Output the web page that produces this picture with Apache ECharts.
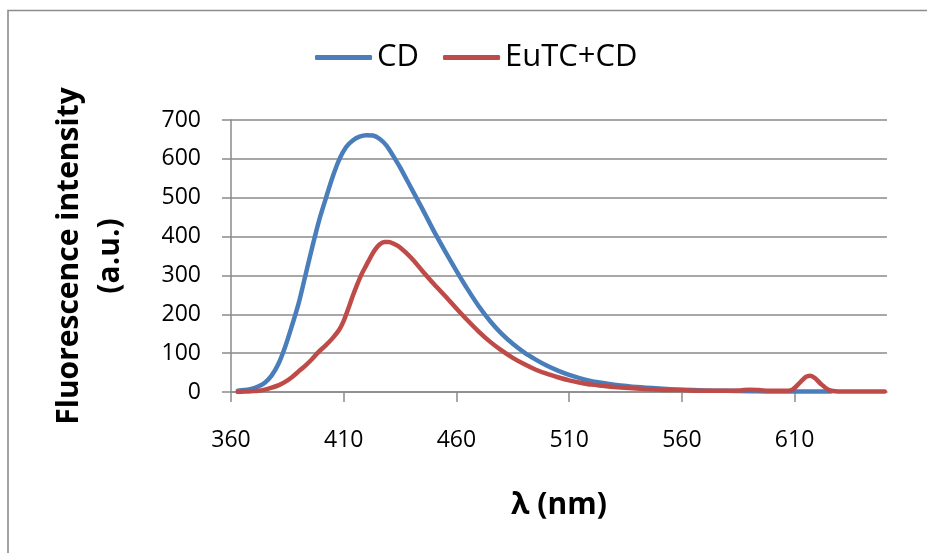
<!DOCTYPE html>
<html>
<head>
<meta charset="utf-8">
<script src="https://cdn.jsdelivr.net/npm/echarts@6/dist/echarts.min.js"></script>
<style>
html,body{margin:0;padding:0;background:#fff;}
#chart{width:927px;height:553px;}
</style>
</head>
<body>
<div id="chart"></div>
<script>
// ---- data ----
const seriesNames = ['CD', 'EuTC+CD'];

const cdWavelength = [363,366,369,372,375,378,381,384,387,390,393,396,399,402,405,408,411,414,417,420,423,426,429,432,435,440,445,450,455,460,465,470,475,480,485,490,495,500,505,510,515,520,525,530,540,550,560,570,580,590,600,610,620,626];
const cdIntensity  = [3,5,8,14,24,42,72,116,170,228,300,372,440,497,552,598,630,647,657,661,660,651,634,607,578,524,470,414,362,312,264,220,182,150,124,102,84,68,55,44,35,28,23,19,13,9,6,4,3,2,1,1,1,1];

const eutcWavelength = [363,366,369,372,375,378,381,384,387,390,393,396,399,402,405,408,410,412,414,416,418,420,422,424,426,428,430,432,435,440,445,450,455,460,465,470,475,480,485,490,495,500,505,510,515,520,525,530,540,550,560,570,580,586,590,594,600,606,609,612,615,617,619,622,625,628,635,650];
const eutcIntensity  = [0,1,2,3,6,11,17,26,38,53,68,85,104,120,138,160,183,214,247,277,304,326,348,367,380,386,386,382,372,345,311,278,247,215,184,155,129,107,88,72,58,47,38,30,24,19,16,13,9,6,5,3,3,4,6,5,3,3,6,22,39,42,36,19,6,2,1,1];

const xTickValues = [360,410,460,510,560,610];
const yTicks = {min: 0, max: 700, interval: 100};
const xRange = {min: 360, max: 651};

const colors = ['#4A7EBB', '#BE4B48'];

function pairs(xs, ys){ return xs.map((x,i)=>[x, ys[i]]); }

const chart = echarts.init(document.getElementById('chart'), null, {renderer:'canvas'});
const font = '"Open Sans", "Noto Sans", sans-serif';
const gridColor = '#8a8a8a';

chart.setOption({
  animation: false,
  backgroundColor: '#ffffff',
  color: colors,
  graphic: [{
    type: 'rect',
    shape: {x: 8, y: 10.5, width: 1000, height: 1000},
    style: {fill: 'none', stroke: '#8c8c8c', lineWidth: 1.6},
    silent: true, z: -10
  }],
  legend: {
    left: 310, top: 37,
    itemWidth: 57, itemHeight: 5, itemGap: 24,
    icon: 'roundRect',
    textStyle: {fontFamily: font, fontSize: 31, color: '#000', padding: [0,0,0,0]},
    data: seriesNames
  },
  grid: {left: 231, right: 40, top: 120, bottom: 161, containLabel: false},
  xAxis: {
    type: 'value',
    min: xRange.min, max: xRange.max,
    name: 'λ (nm)',
    nameLocation: 'middle',
    nameGap: 98,
    nameTextStyle: {fontFamily: font, fontSize: 30, fontWeight: 'bold', color: '#000', lineHeight: 30},
    axisLine: {show: true, onZero: false, lineStyle: {color: gridColor, width: 1.5}},
    axisTick: {show: true, inside: false, length: 10, lineStyle: {color: gridColor, width: 1.5}, customValues: xTickValues},
    axisLabel: {fontFamily: font, fontSize: 23, color: '#000', margin: 37, customValues: xTickValues},
    splitLine: {show: false}
  },
  yAxis: {
    type: 'value',
    min: yTicks.min, max: yTicks.max, interval: yTicks.interval,
    name: 'Fluorescence intensity\n(a.u.)',
    nameLocation: 'middle',
    nameRotate: 90,
    nameGap: 100,
    nameTextStyle: {fontFamily: font, fontSize: 30, fontWeight: 'bold', color: '#000', lineHeight: 41, align: 'center'},
    axisLine: {show: true, lineStyle: {color: gridColor, width: 1.5}},
    axisTick: {show: true, inside: false, length: 9, lineStyle: {color: gridColor, width: 1.5}},
    axisLabel: {fontFamily: font, fontSize: 23, color: '#000', margin: 30},
    splitLine: {show: true, lineStyle: {color: gridColor, width: 1.5}}
  },
  series: [
    {
      name: seriesNames[0], type: 'line', data: pairs(cdWavelength, cdIntensity),
      showSymbol: false, symbol: 'none', smooth: 0.3,
      lineStyle: {color: colors[0], width: 4.5, cap: 'round', join: 'round'},
      itemStyle: {color: colors[0]}, z: 3
    },
    {
      name: seriesNames[1], type: 'line', data: pairs(eutcWavelength, eutcIntensity),
      showSymbol: false, symbol: 'none', smooth: 0.3,
      lineStyle: {color: colors[1], width: 4.5, cap: 'round', join: 'round'},
      itemStyle: {color: colors[1]}, z: 4
    }
  ]
});
</script>
</body>
</html>
